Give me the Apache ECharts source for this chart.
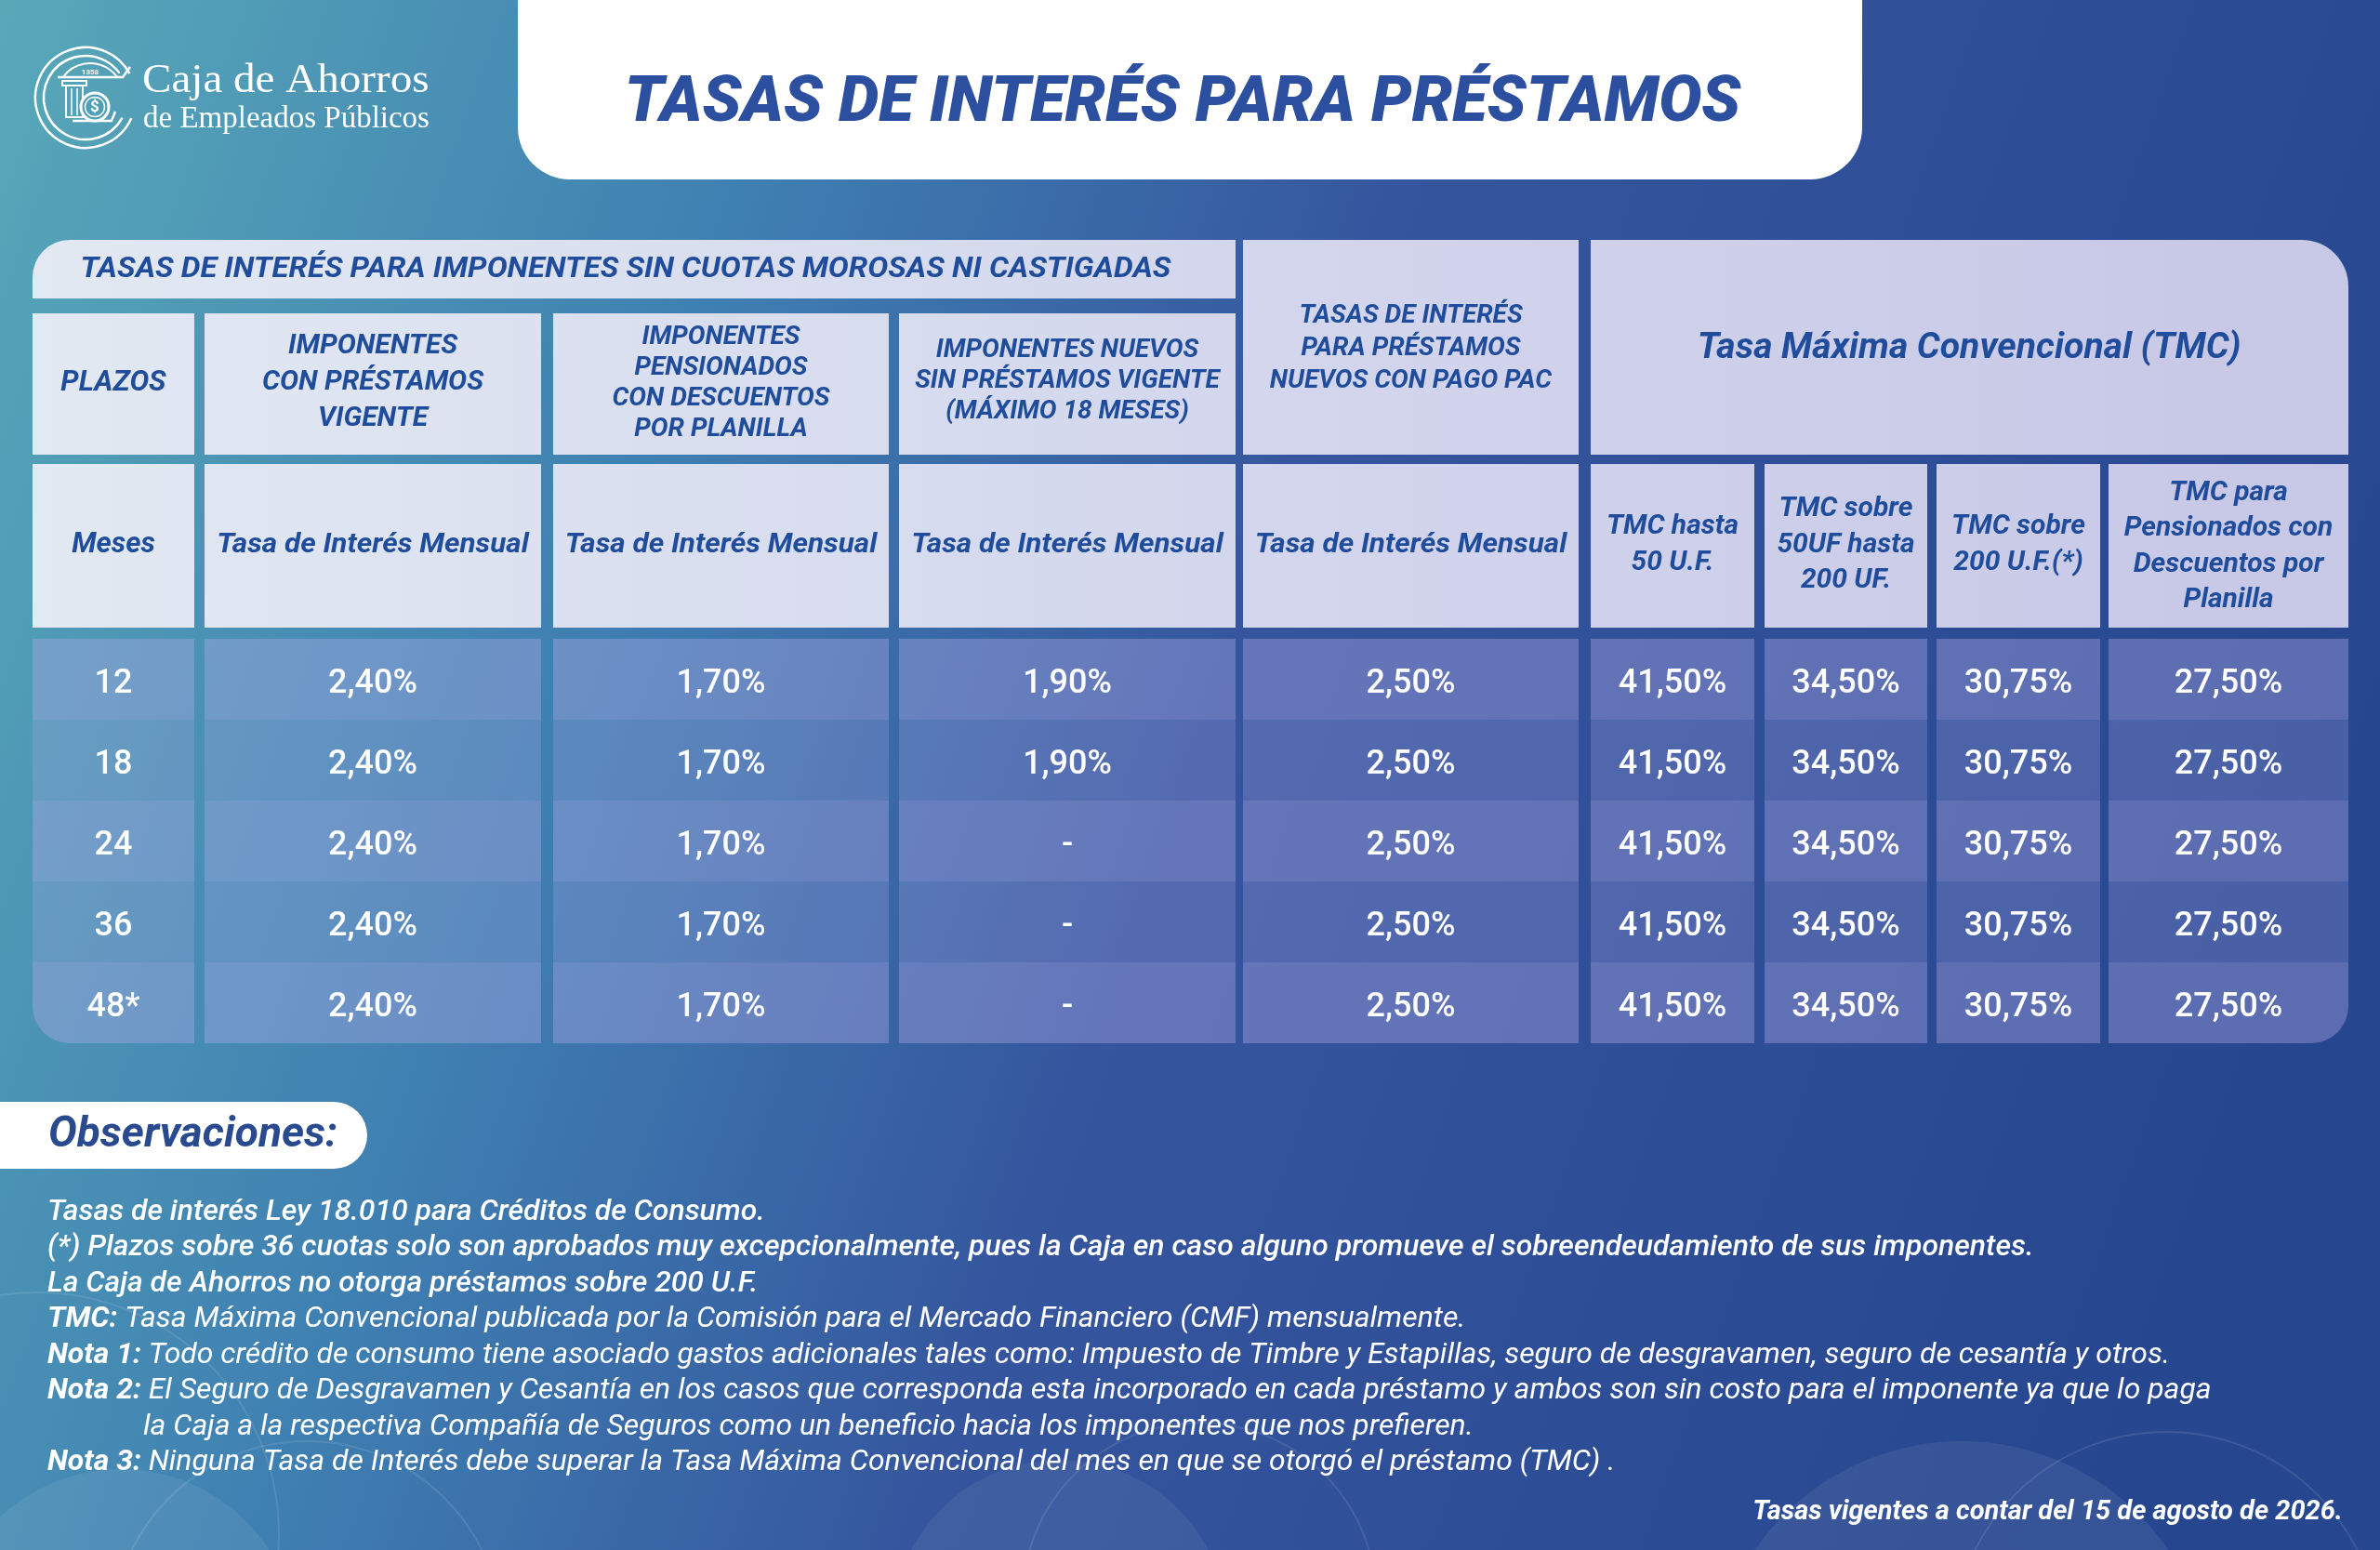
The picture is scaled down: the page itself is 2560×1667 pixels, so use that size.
<!DOCTYPE html>
<html><head><meta charset="utf-8">
<script src="https://cdn.jsdelivr.net/npm/echarts@6/dist/echarts.min.js"></script>
<style>html,body{margin:0;padding:0;background:#2f5a9e}#c{width:2560px;height:1667px;}</style>
</head><body><div id="c"></div>
<script>
// ---------------- DATA ----------------
const plazos = ['12', '18', '24', '36', '48*'];
const tasaConPrestamo = [2.40, 2.40, 2.40, 2.40, 2.40];
const tasaPensionados = [1.70, 1.70, 1.70, 1.70, 1.70];
const tasaNuevos = [1.90, 1.90, null, null, null];
const tasaPagoPac = [2.50, 2.50, 2.50, 2.50, 2.50];
const tmcHasta50UF = [41.50, 41.50, 41.50, 41.50, 41.50];
const tmc50a200UF = [34.50, 34.50, 34.50, 34.50, 34.50];
const tmcSobre200UF = [30.75, 30.75, 30.75, 30.75, 30.75];
const tmcPensionados = [27.50, 27.50, 27.50, 27.50, 27.50];

const titulo = 'TASAS DE INTERÉS PARA PRÉSTAMOS';
const grupoTitulo = 'TASAS DE INTERÉS PARA IMPONENTES SIN CUOTAS MOROSAS NI CASTIGADAS';
const encabezados = ['PLAZOS', 'IMPONENTES\nCON PRÉSTAMOS\nVIGENTE', 'IMPONENTES\nPENSIONADOS\nCON DESCUENTOS\nPOR PLANILLA', 'IMPONENTES NUEVOS\nSIN PRÉSTAMOS VIGENTE\n(MÁXIMO 18 MESES)', 'TASAS DE INTERÉS\nPARA PRÉSTAMOS\nNUEVOS CON PAGO PAC', 'Tasa Máxima Convencional (TMC)'];
const subEncabezados = ['Meses', 'Tasa de Interés Mensual', 'Tasa de Interés Mensual', 'Tasa de Interés Mensual', 'Tasa de Interés Mensual', 'TMC hasta\n50 U.F.', 'TMC sobre\n50UF hasta\n200 UF.', 'TMC sobre\n200 U.F.(*)', 'TMC para\nPensionados con\nDescuentos por\nPlanilla'];
const notas = [
  ['', 'Tasas de interés Ley 18.010 para Créditos de Consumo.'],
  ['', '(*) Plazos sobre 36 cuotas solo son aprobados muy excepcionalmente, pues la Caja en caso alguno promueve el sobreendeudamiento de sus imponentes.'],
  ['', 'La Caja de Ahorros no otorga préstamos sobre 200 U.F.'],
  ['TMC:', 'Tasa Máxima Convencional publicada por la Comisión para el Mercado Financiero (CMF) mensualmente.'],
  ['Nota 1:', 'Todo crédito de consumo tiene asociado gastos adicionales tales como: Impuesto de Timbre y Estapillas, seguro de desgravamen, seguro de cesantía y otros.'],
  ['Nota 2:', 'El Seguro de Desgravamen y Cesantía en los casos que corresponda esta incorporado en cada préstamo y ambos son sin costo para el imponente ya que lo paga'],
  ['    ', 'la Caja a la respectiva Compañía de Seguros como un beneficio hacia los imponentes que nos prefieren.'],
  ['Nota 3:', 'Ninguna Tasa de Interés debe superar la Tasa Máxima Convencional del mes en que se otorgó el préstamo (TMC) .']
];
const vigencia = 'Tasas vigentes a contar del 15 de agosto de 2026.';

// ---------------- LAYOUT ----------------
const FONT = 'Roboto, "Noto Sans", sans-serif';
const TXT = '#1f4c9b';
const TABLE_LEFT = 35, TABLE_W = 2491;
const COL_X = [0, 185, 560, 932, 1302, 1676, 1863, 2048, 2233];
const COL_W = [174, 362, 361, 362, 361, 176, 175, 176, 258];

const fmt = v => v == null ? '-' : v.toFixed(2).replace('.', ',') + '%';
const columnas = [plazos, tasaConPrestamo.map(fmt), tasaPensionados.map(fmt), tasaNuevos.map(fmt), tasaPagoPac.map(fmt),
  tmcHasta50UF.map(fmt), tmc50a200UF.map(fmt), tmcSobre200UF.map(fmt), tmcPensionados.map(fmt)];
const cells = [];
columnas.forEach((col, c) => col.forEach((t, r) => cells.push({ c, r, text: t })));

const headFill = { type: 'linear', x: 35, y: 0, x2: 2526, y2: 0, global: true,
  colorStops: [{ offset: 0, color: '#e2e9f2' }, { offset: 0.45, color: '#d5d9ee' }, { offset: 1, color: '#c7c7e6' }] };

function txt(x, y, text, size, o) {
  o = o || {};
  return { type: 'text', x, y, scaleX: o.sx || 1, z: 10,
    style: { text, fill: o.fill || TXT, fontFamily: o.family || FONT, fontSize: size, fontWeight: o.weight || 'bold',
      fontStyle: o.style || 'italic', align: o.align || 'center', textAlign: o.align || 'center',
      verticalAlign: 'middle', textVerticalAlign: 'middle', lineHeight: o.lh || size * 1.2 } };
}
function rect(x, y, w, h, r, fill, z) {
  return { type: 'rect', z: z || 5, shape: { x, y, width: w, height: h, r: r || 0 }, style: { fill } };
}

const g = [];
// background
g.push({ type: 'rect', z: 0, shape: { x: 0, y: 0, width: 2560, height: 1667 },
  style: { fill: { type: 'linear', x: 0, y: 0, x2: 1, y2: 0.55, colorStops: [
    { offset: 0, color: '#58a8b8' }, { offset: 0.3, color: '#3f80b2' }, { offset: 0.55, color: '#35559e' }, { offset: 1, color: '#264690' }] } } });
// decorative circles
[[130, 1770, 190, 0.07], [1140, 1750, 180, 0.06], [2110, 1820, 270, 0.07]].forEach(a =>
  g.push({ type: 'circle', z: 1, shape: { cx: a[0], cy: a[1], r: a[2] }, style: { fill: 'rgba(255,255,255,' + a[3] + ')' } }));
[[330, 1760, 210], [1290, 1720, 190], [2330, 1770, 230], [40, 1650, 260]].forEach(a =>
  g.push({ type: 'circle', z: 1, shape: { cx: a[0], cy: a[1], r: a[2] }, style: { fill: 'none', stroke: 'rgba(255,255,255,0.10)', lineWidth: 2 } }));

// title box
g.push(rect(557, -80, 1446, 273, 56, '#ffffff', 5));
g.push(txt(1272, 113, titulo, 69, { weight: 900, fill: '#2c4f9f' }));

// logo
const W = '#ffffff';
g.push({ type: 'arc', z: 6, shape: { cx: 92, cy: 105, r: 54, startAngle: 0.42, endAngle: Math.PI * 2 - 0.5, clockwise: true }, style: { stroke: W, lineWidth: 2.5, fill: 'none' } });
g.push({ type: 'arc', z: 6, shape: { cx: 92, cy: 105, r: 45, startAngle: 0.5, endAngle: Math.PI * 2 - 0.62, clockwise: true }, style: { stroke: W, lineWidth: 2.5, fill: 'none' } });
g.push({ type: 'polyline', z: 6, shape: { points: [[140, 72], [132, 83], [62, 83]] }, style: { stroke: W, lineWidth: 2.5, fill: 'none' } });
g.push({ type: 'arc', z: 6, shape: { cx: 97, cy: 104, r: 36, startAngle: Math.PI + 0.62, endAngle: Math.PI * 2 - 0.62, clockwise: true }, style: { stroke: W, lineWidth: 2, fill: 'none' } });
g.push(txt(97, 78, '1858', 8, { fill: W, style: 'normal' }));
g.push({ type: 'rect', z: 6, shape: { x: 67, y: 87, width: 26, height: 5 }, style: { stroke: W, lineWidth: 2, fill: 'none' } });
g.push({ type: 'rect', z: 6, shape: { x: 71, y: 92, width: 18, height: 34 }, style: { stroke: W, lineWidth: 2, fill: 'none' } });
g.push({ type: 'polyline', z: 6, shape: { points: [[77, 95], [77, 124]] }, style: { stroke: W, lineWidth: 1.5 } });
g.push({ type: 'polyline', z: 6, shape: { points: [[83, 95], [83, 124]] }, style: { stroke: W, lineWidth: 1.5 } });
g.push({ type: 'polyline', z: 6, shape: { points: [[78, 130], [120, 130], [124, 120]] }, style: { stroke: W, lineWidth: 2.5, fill: 'none' } });
g.push({ type: 'circle', z: 7, shape: { cx: 102, cy: 115, r: 15 }, style: { stroke: W, lineWidth: 3, fill: '#4fa0b6' } });
g.push({ type: 'circle', z: 7, shape: { cx: 102, cy: 115, r: 10.5 }, style: { stroke: W, lineWidth: 1.5, fill: 'none' } });
g.push(txt(102, 116, '$', 17, { fill: W, style: 'normal' }));
g.push(txt(153, 87, 'Caja de Ahorros', 44, { family: '"Liberation Serif", "DejaVu Serif", serif', weight: 'normal', style: 'normal', fill: W, align: 'left', sx: 1.07 }));
g.push(txt(154, 128, 'de Empleados Públicos', 33, { family: '"Liberation Serif", "DejaVu Serif", serif', weight: 'normal', style: 'normal', fill: W, align: 'left' }));

// header cells
const X = i => TABLE_LEFT + COL_X[i];
const cx = i => X(i) + COL_W[i] / 2;
g.push(rect(35, 258, 1294, 63, [40, 0, 0, 0], headFill));
for (let i = 0; i < 4; i++) g.push(rect(X(i), 337, COL_W[i], 152, 0, headFill));
g.push(rect(X(4), 258, COL_W[4], 231, 0, headFill));
g.push(rect(X(5), 258, 2526 - X(5), 231, [0, 50, 0, 0], headFill));
for (let i = 0; i < 9; i++) g.push(rect(X(i), 499, COL_W[i], 176, 0, headFill));

g.push(txt(673, 290, grupoTitulo, 31, { sx: 1.06 }));
g.push(txt(cx(0), 412, encabezados[0], 31));
g.push(txt(cx(1), 411, encabezados[1], 30, { lh: 39 }));
g.push(txt(cx(2), 412, encabezados[2], 28, { lh: 33 }));
g.push(txt(cx(3), 410, encabezados[3], 28, { lh: 33 }));
g.push(txt(cx(4), 375, encabezados[4], 28, { lh: 35 }));
g.push(txt(2118, 375, encabezados[5], 38, { sx: 1.03 }));
for (let i = 0; i < 9; i++) g.push(txt(cx(i), i === 8 ? 588 : 586, subEncabezados[i], i === 0 ? 31 : 30,
  { lh: 38.5, sx: (i >= 1 && i <= 4) ? 1.05 : 1 }));

// Observaciones
g.push(rect(-40, 1185, 435, 72, 36, '#ffffff', 5));
g.push(txt(52, 1221, 'Observaciones:', 46, { align: 'left', fill: '#2a4a8f' }));
notas.forEach((n, i) => {
  const strong = i < 3;
  const t = n[0] ? (n[0].trim() ? '{b|' + n[0] + '} {n|' + n[1] + '}' : '{n|' + n[1] + '}') : '{' + (strong ? 'm' : 'n') + '|' + n[1] + '}';
  const x = n[0] && !n[0].trim() ? 154 : 51;
  g.push({ type: 'text', x, y: 1304 + i * 38.5, z: 10, scaleX: 1.03,
    style: { text: t, fill: '#fff', fontFamily: FONT, fontSize: 31, fontStyle: 'italic', align: 'left', verticalAlign: 'middle', textVerticalAlign: 'middle',
      rich: {
        b: { fontFamily: FONT, fontSize: 31, fontStyle: 'italic', fontWeight: 'bold', fill: '#fff', color: '#fff' },
        m: { fontFamily: FONT, fontSize: 31, fontStyle: 'italic', fontWeight: 500, fill: '#fff', color: '#fff' },
        n: { fontFamily: FONT, fontSize: 31, fontStyle: 'italic', fontWeight: 'normal', fill: '#fff', color: '#fff' }
      } } });
});
g.push(txt(2520, 1627, vigencia, 29, { align: 'right', fill: '#fff' }));

// ---------------- CHART ----------------
const chart = echarts.init(document.getElementById('c'), null, { renderer: 'canvas', width: 2560, height: 1667 });
const LIGHT = 'rgba(180,172,232,0.38)', DARK = 'rgba(180,172,232,0.25)';
chart.setOption({
  animation: false,
  graphic: { elements: g },
  grid: { left: TABLE_LEFT, top: 687, width: TABLE_W, height: 435 },
  xAxis: { type: 'value', min: 0, max: TABLE_W, show: false },
  yAxis: { type: 'category', data: plazos, inverse: true, show: false },
  series: [{
    type: 'custom', z: 20,
    data: cells.map(c => [COL_X[c.c], c.r]),
    renderItem: function (params, api) {
      const cell = cells[params.dataIndex];
      const p = api.coord([COL_X[cell.c], cell.r]);
      const w = api.size([COL_W[cell.c], 0])[0];
      const h = api.size([0, 1])[1];
      const last = cell.r === plazos.length - 1;
      let r = 0;
      if (last && cell.c === 0) r = [0, 0, 0, 40];
      if (last && cell.c === 8) r = [0, 0, 40, 0];
      return { type: 'group', children: [
        { type: 'rect', shape: { x: p[0], y: p[1] - h / 2, width: w, height: h, r }, style: { fill: cell.r % 2 === 0 ? LIGHT : DARK } },
        { type: 'text', x: p[0] + w / 2, y: p[1] + 5, style: { text: cell.text, fill: '#ffffff', fontFamily: FONT, fontSize: 36, fontWeight: 500,
          align: 'center', verticalAlign: 'middle' } }
      ] };
    }
  }]
});
</script></body></html>
